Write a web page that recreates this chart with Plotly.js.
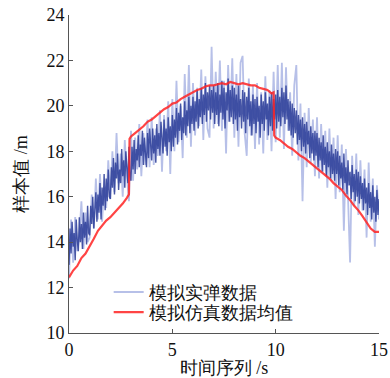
<!DOCTYPE html>
<html>
<head>
<meta charset="utf-8">
<script src="https://cdn.plot.ly/plotly-3.0.1.min.js"></script>
<style>html,body{margin:0;padding:0;background:#fff;}#chart{width:390px;height:378px;}</style>
</head>
<body>
<div id="chart"></div>
<script>
// Simulated live-fire data (dense core), sampled every 0.05 s from t = 0
var realT0 = 0, realDt = 0.05;
var realCore = [
13.0,14.6,13.5,14.9,13.8,14.4,13.2,15.0,14.1,13.6,15.1,14.0,14.8,13.7,15.3,14.2,14.9,13.9,15.6,14.4,
14.3,15.6,14.8,16.0,14.6,15.4,16.2,14.9,16.1,15.3,16.6,15.0,16.4,15.6,17.0,15.4,16.8,15.8,17.2,16.0,
15.9,17.3,16.4,17.7,16.1,17.5,16.8,17.9,16.3,17.2,16.6,18.1,16.9,17.6,16.4,18.0,17.1,16.6,18.2,16.9,
16.7,18.2,17.2,18.5,17.0,18.1,17.6,18.7,17.3,18.3,17.8,18.9,17.4,18.6,17.9,17.3,18.8,17.7,19.0,18.0,
17.6,19.0,17.9,18.7,17.5,19.2,18.1,18.8,17.8,19.3,18.3,17.9,19.4,18.2,19.0,17.8,19.5,18.4,19.1,18.0,
19.6,18.2,19.4,18.6,19.9,18.3,19.7,18.9,20.1,18.5,19.5,18.8,20.2,18.7,19.8,19.1,20.4,18.8,20.0,19.2,
20.4,18.9,20.2,19.3,20.7,19.0,20.3,19.5,20.8,19.2,20.5,19.6,21.0,19.3,20.6,19.8,20.9,19.4,20.7,19.7,
20.9,19.2,20.6,19.6,21.0,19.1,20.5,19.7,21.1,19.4,20.8,19.0,20.6,19.8,21.2,19.3,20.7,19.5,20.9,19.2,
20.8,19.4,20.5,18.9,20.9,19.5,20.3,19.0,20.7,19.3,20.6,18.8,20.4,19.4,20.8,19.1,20.2,18.7,20.5,19.2,
20.3,18.8,20.4,19.3,20.0,18.6,20.5,19.2,20.2,18.9,20.6,19.4,20.1,18.7,20.4,19.1,20.6,18.9,20.3,19.4,
20.5,19.0,20.7,19.3,20.4,19.1,20.8,19.5,20.6,19.2,20.9,19.4,20.3,18.9,20.2,18.7,20.1,18.6,19.9,18.8,
19.8,18.3,19.6,18.5,19.4,18.0,19.5,18.2,19.2,17.9,19.3,18.3,18.9,17.7,19.1,17.9,18.8,17.6,18.9,17.8,
18.8,17.3,18.6,17.6,18.4,17.1,18.7,17.4,18.2,16.9,18.4,17.3,18.0,16.8,18.3,17.0,17.9,16.7,18.1,17.0,
18.0,16.5,17.8,16.8,17.5,16.3,17.9,16.6,17.3,16.1,17.6,16.5,17.1,15.9,17.4,16.2,17.0,15.8,17.2,16.0,
17.1,15.7,16.9,15.9,16.6,15.4,16.8,15.7,16.4,15.2,16.6,15.5,16.2,15.0,16.5,15.3,16.0,14.9,16.3,15.2,
15.9
];
// Simulated live-fire data (wider excursions), sampled every 0.1 s
var spikeT0 = 0, spikeDt = 0.1;
var realSpikes = [
12.4,15.0,13.1,15.1,13.6,14.2,15.8,13.7,15.3,14.0,
14.2,16.1,14.6,16.8,15.0,17.0,14.9,16.4,15.5,17.6,
15.9,18.0,16.2,18.8,16.6,17.9,16.0,18.5,16.9,15.8,
18.9,16.7,18.6,17.2,19.2,16.9,18.8,17.4,19.4,17.3,
19.5,17.4,19.0,17.8,19.8,17.1,19.6,18.0,20.2,17.0,
20.3,18.0,21.1,18.4,20.0,17.7,21.4,18.6,21.8,18.2,
21.0,18.7,20.8,19.1,21.6,18.5,21.3,19.0,18.6,22.6,
19.0,21.5,19.2,22.0,18.9,21.1,17.9,21.8,19.3,22.1,
18.6,21.4,18.2,21.9,22.2,18.8,17.8,21.2,18.7,20.9,
18.1,21.0,18.3,20.6,17.9,21.3,18.5,20.7,18.0,21.5,
18.4,21.8,18.6,21.9,18.1,21.7,18.9,20.6,17.8,20.9,
21.8,17.6,20.1,15.8,19.7,17.3,19.9,17.5,19.4,16.9,
19.5,16.8,19.2,17.1,18.9,16.4,19.0,16.7,18.6,15.9,
18.7,16.2,18.3,14.5,18.1,16.0,13.1,17.8,15.6,17.9,
15.2,17.6,15.4,17.2,14.2,17.5,14.9,16.8,13.8,16.5,
15.0
];
// Simulation mean
var meanT = [0,0.2,0.4,0.6,0.8,1.0,1.2,1.4,1.6,1.8,2.0,2.2,2.4,2.6,2.8,2.9,2.93,3.0,3.2,3.4,3.6,3.8,4.0,4.2,4.4,4.6,4.8,5.0,5.2,5.4,5.6,5.8,6.0,6.2,6.4,6.6,6.8,7.0,7.2,7.4,7.6,7.8,8.0,8.2,8.4,8.6,8.8,9.0,9.2,9.4,9.6,9.8,9.9,9.93,10.0,10.2,10.4,10.6,10.8,11.0,11.2,11.4,11.6,11.8,12.0,12.2,12.4,12.6,12.8,13.0,13.2,13.4,13.6,13.8,14.0,14.2,14.4,14.6,14.8,15.0];
var meanY = [12.45,12.75,12.95,13.3,13.5,13.8,14.15,14.5,14.75,14.95,15.1,15.3,15.5,15.7,15.95,16.1,18.55,18.65,18.8,18.95,19.1,19.3,19.4,19.55,19.7,19.85,19.95,20.1,20.15,20.3,20.4,20.5,20.6,20.7,20.75,20.85,20.9,20.9,20.95,21.0,20.95,21.05,21.0,20.95,21.0,20.95,20.9,20.9,20.8,20.75,20.7,20.55,20.6,18.7,18.6,18.5,18.35,18.2,18.1,17.95,17.8,17.7,17.55,17.4,17.25,17.1,16.95,16.8,16.6,16.45,16.3,16.05,15.85,15.6,15.4,15.15,14.9,14.6,14.45,14.45];

var seriesNames = ['模拟实弹数据', '模拟仿真数据均值'];
var xTitle = '时间序列 /s';
var yTitle = '样本值 /m';

var fontFam = 'Liberation Serif, Times New Roman, serif';

var traces = [
  {type:'scatter', mode:'lines', name: seriesNames[0], x0: spikeT0, dx: spikeDt, y: realSpikes,
   line:{color:'rgba(95,115,205,0.45)', width:1.8}, showlegend:true, legend:'legend'},
  {type:'scatter', mode:'lines', name: seriesNames[0], x0: realT0, dx: realDt, y: realCore,
   line:{color:'rgba(40,58,150,0.85)', width:1.4}, showlegend:false},
  {type:'scatter', mode:'lines', name: seriesNames[1], x: meanT, y: meanY,
   line:{color:'rgba(255,35,35,0.85)', width:2.2}, showlegend:true, legend:'legend2'}
];

var legFont = {family:fontFam, size:18, color:'#111'};
var layout = {
  width:390, height:378,
  margin:{l:69, r:11, t:15, b:45},
  paper_bgcolor:'#fff', plot_bgcolor:'#fff',
  font:{family:fontFam, size:18, color:'#111'},
  showlegend:true,
  legend:{x:0.128, y:0.128, xanchor:'left', yanchor:'middle', bgcolor:'rgba(0,0,0,0)', font:legFont},
  legend2:{x:0.128, y:0.065, xanchor:'left', yanchor:'middle', bgcolor:'rgba(0,0,0,0)', font:legFont},
  xaxis:{range:[0,15], dtick:5, tick0:0, showgrid:false, zeroline:false,
         showline:true, linecolor:'#555', linewidth:1, ticks:'inside', ticklen:4, tickcolor:'#555',
         tickfont:{family:fontFam, size:18, color:'#111'},
         title:{text:xTitle, font:{family:fontFam, size:18, color:'#111'}, standoff:0}},
  yaxis:{range:[10,24], dtick:2, tick0:10, showgrid:false, zeroline:false,
         showline:true, linecolor:'#555', linewidth:1, ticks:'inside', ticklen:4, tickcolor:'#555',
         tickfont:{family:fontFam, size:18, color:'#111'},
         title:{text:yTitle, font:{family:fontFam, size:18, color:'#111'}, standoff:14}}
};

Plotly.newPlot('chart', traces, layout, {displayModeBar:false, staticPlot:true});
</script>
</body>
</html>
